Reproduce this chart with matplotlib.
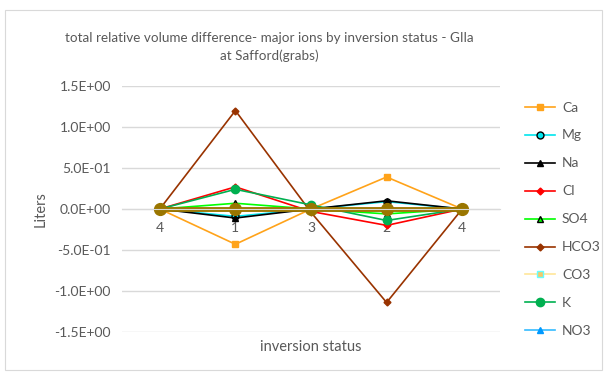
import matplotlib.pyplot as plt
from matplotlib.patches import Rectangle

# statut d'inversion et différences relatives de volume
categories = ['4', '1', '3', '2', '4']
ca = [0, -0.43, 0, 0.39, 0]
mg = [0, -0.09, 0, 0.09, 0]
na = [0, -0.11, 0, 0.10, 0]
cl = [0, 0.27, -0.03, -0.20, 0]
so4 = [0, 0.07, 0, -0.06, 0]
hco3 = [0, 1.20, -0.04, -1.14, 0]
co3 = [0, 0, 0, 0, 0]
k = [0, 0.24, 0.05, -0.14, 0]
no3 = [0, 0, 0, 0, 0]
autre = [0, 0, 0, 0, 0]

plt.rcParams['font.family'] = ['Lato', 'DejaVu Sans']

fig = plt.figure(figsize=(6.05, 3.72), dpi=100)
fig.patches.append(Rectangle((5 / 605, 0.005), 0.995 - 5 / 605, 1 - 10 / 372 - 0.005,
                             transform=fig.transFigure, fill=False,
                             edgecolor='#d9d9d9', linewidth=0.8))
ax = fig.add_axes([122 / 605, 1 - 332 / 372, 378 / 605, 246 / 372])

x = range(len(categories))
ax.plot(x, ca, color='#ffa31a', lw=1.2, marker='s', ms=5, label='Ca')
ax.plot(x, mg, color='#00e5ee', lw=1.2, marker='o', ms=5, mfc='#00e5ee', mec='black', label='Mg')
ax.plot(x, na, color='black', lw=1.2, marker='^', ms=5, label='Na')
ax.plot(x, cl, color='#ff0000', lw=1.2, marker='D', ms=3.5, label='Cl')
ax.plot(x, so4, color='#00ff00', lw=1.2, marker='^', ms=5, mfc='#00ff00', mec='black', label='SO4')
ax.plot(x, hco3, color='#993300', lw=1.2, marker='D', ms=3.5, label='HCO3')
ax.plot(x, co3, color='#ffe699', lw=1.2, marker='s', ms=5, mfc='#f5c86a', mec='#66ffff', label='CO3')
ax.plot(x, k, color='#00b050', lw=1.2, marker='o', ms=6, label='K')
ax.plot(x, no3, color='#33bbff', lw=1.2, marker='^', ms=5, mfc='#0099ff', mec='#0099ff', label='NO3')
ax.plot(x, autre, color='#9a7600', lw=3.5, marker='o', ms=8.5)

ax.set_xlim(-0.5, len(categories) - 0.5)
ax.set_ylim(-1.5, 1.5)
ax.set_yticks([1.5, 1.0, 0.5, 0, -0.5, -1.0, -1.5])
ax.set_yticklabels([f'{v:.1E}' for v in [1.5, 1.0, 0.5, 0, -0.5, -1.0, -1.5]])
ax.set_xticks(list(x))
ax.set_xticklabels(categories)
ax.grid(axis='y', color='#d9d9d9', lw=1)
ax.set_axisbelow(True)
for s in ['top', 'right', 'left']:
    ax.spines[s].set_visible(False)
ax.spines['bottom'].set_position(('data', 0))
ax.spines['bottom'].set_color('#d9d9d9')
ax.tick_params(axis='both', length=0, labelsize=10, colors='#595959')
ax.tick_params(axis='x', pad=9)
ax.tick_params(axis='y', pad=8)

ax.set_ylabel('Liters', fontsize=10.5, color='#595959', labelpad=5)
fig.text(311 / 605, 1 - 347 / 372, 'inversion status', ha='center', va='center',
         fontsize=10.5, color='#595959')
fig.text(269 / 605, 1 - 47 / 372,
         'total relative volume difference- major ions by inversion status - GIla\nat Safford(grabs)',
         ha='center', va='center', fontsize=9.7, color='#595959', linespacing=1.45)

leg = fig.legend(loc='upper left', bbox_to_anchor=(512 / 605, 1 - 89 / 372), frameon=False,
                 fontsize=10, handlelength=2.2, labelspacing=1.15, handletextpad=0.5)
for t in leg.get_texts():
    t.set_color('#595959')

fig.savefig('out.png', dpi=100)
